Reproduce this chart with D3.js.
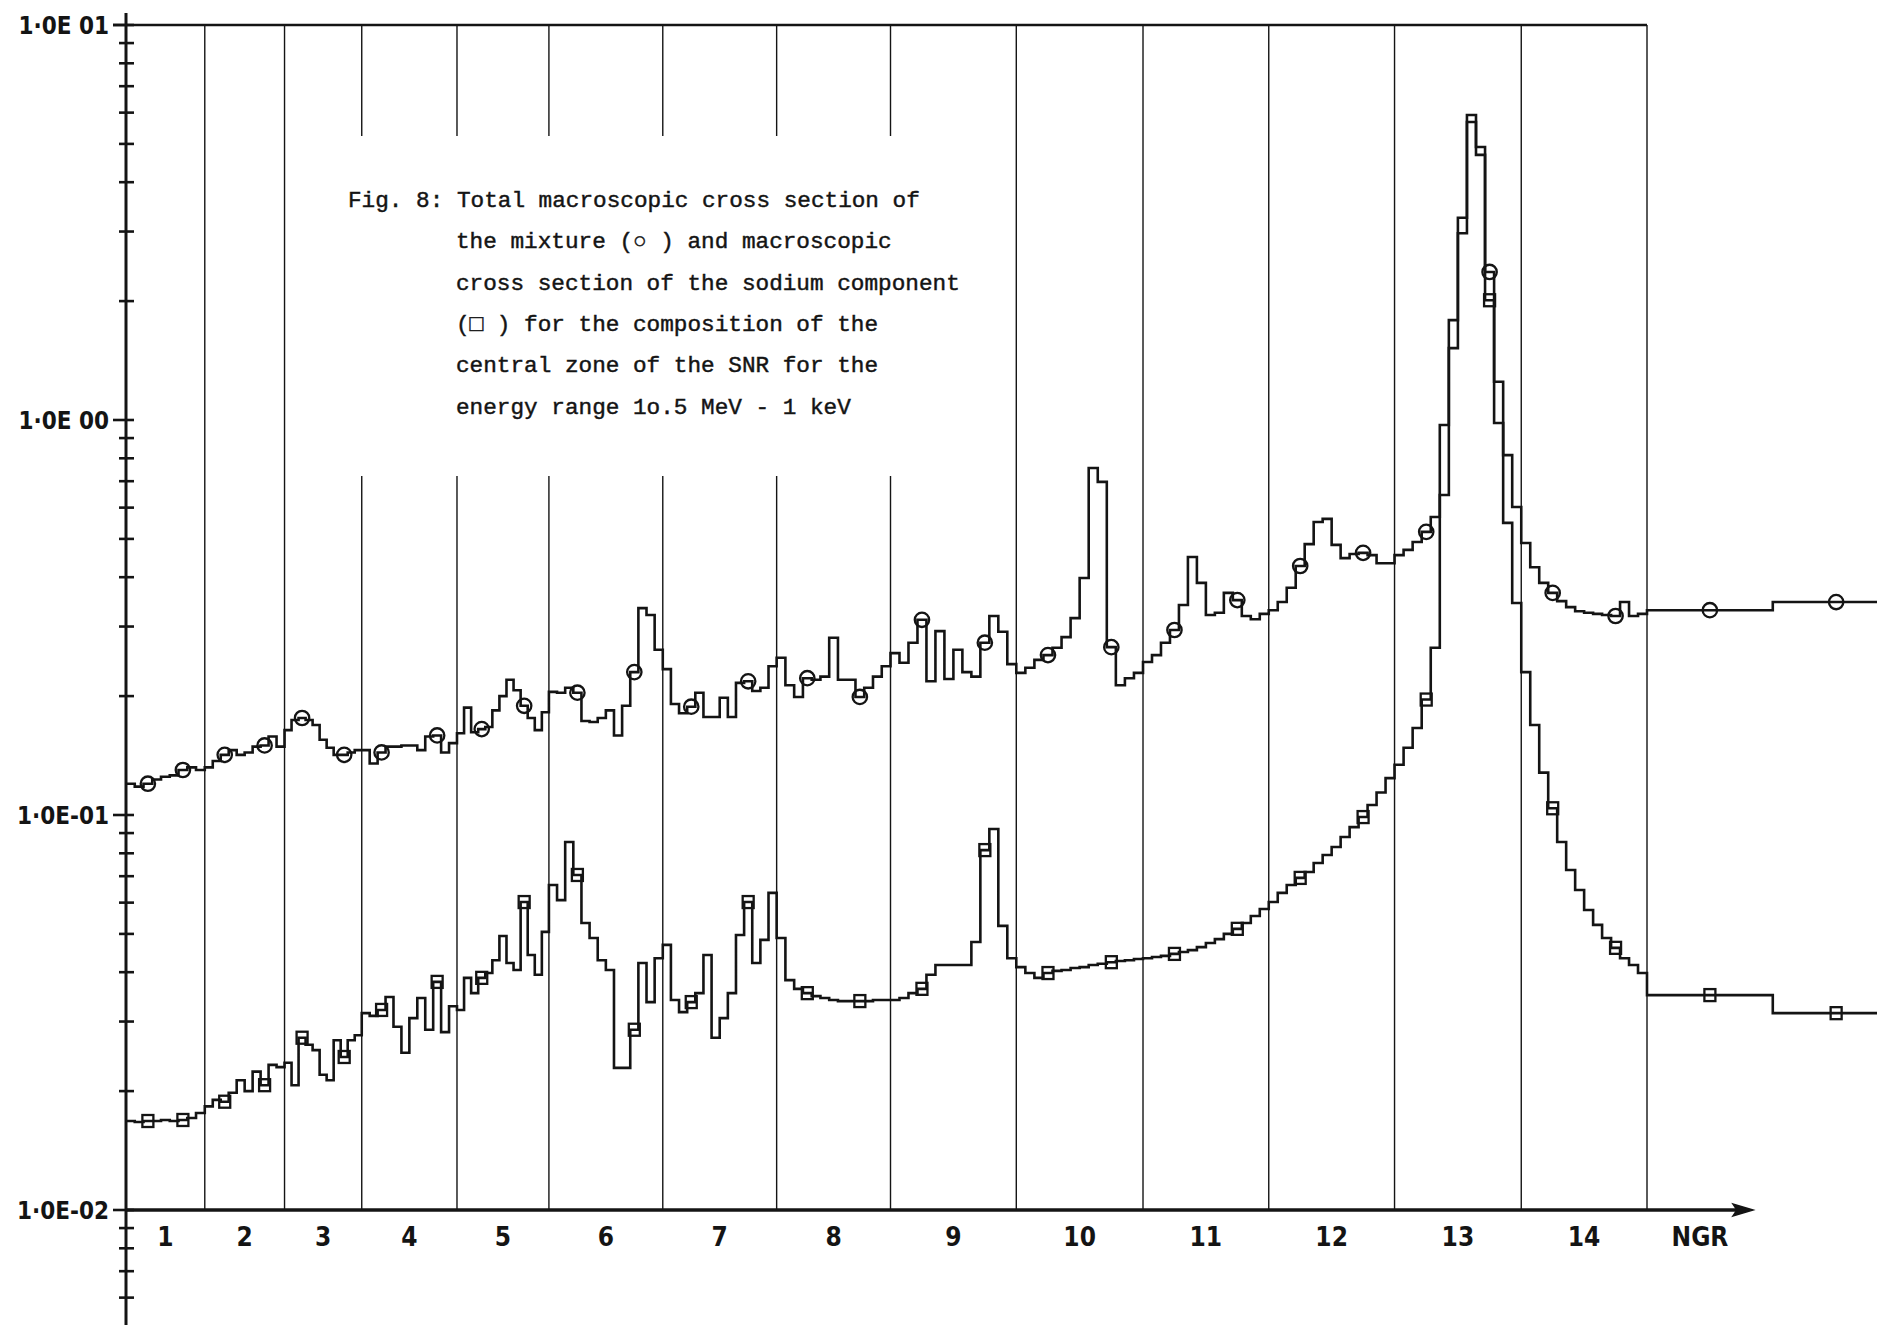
<!DOCTYPE html>
<html>
<head>
<meta charset="utf-8">
<script src="https://cdn.jsdelivr.net/npm/d3@7"></script>
<style>
  html, body { margin: 0; padding: 0; background: #fff; }
  svg { display: block; }
</style>
</head>
<body>
<svg id="chart" width="1877" height="1325"></svg>
<script>
// ABBN energy group boundaries in MeV (groups 1..16)
const groupEdges = [10.5, 6.5, 4.0, 2.5, 1.4, 0.8, 0.4, 0.2, 0.1, 0.0465, 0.0215,
                    0.01, 0.00465, 0.00215, 0.001, 0.000465, 0.000215];
const groupLabels = ["1", "2", "3", "4", "5", "6", "7", "8", "9", "10", "11", "12", "13", "14"];
const yTickValues = [10, 1, 0.1, 0.01];
const yTickLabels = ["1\u00b70E 01", "1\u00b70E 00", "1\u00b70E-01", "1\u00b70E-02"];

// Total macroscopic cross section of the mixture, fine steps per group (1/cm)
const mixture = [
  [0.120, 0.118, 0.120, 0.123, 0.125, 0.126, 0.130, 0.132, 0.130],
  [0.132, 0.137, 0.142, 0.146, 0.142, 0.144, 0.149, 0.150, 0.158, 0.149],
  [0.164, 0.174, 0.176, 0.174, 0.169, 0.155, 0.148, 0.142, 0.142, 0.144, 0.146],
  [0.146, 0.135, 0.144, 0.149, 0.149, 0.150, 0.150, 0.146, 0.158, 0.159, 0.144, 0.152],
  [0.161, 0.187, 0.162, 0.165, 0.167, 0.184, 0.200, 0.220, 0.207, 0.189, 0.176, 0.164, 0.182],
  [0.205, 0.204, 0.210, 0.204, 0.173, 0.172, 0.176, 0.184, 0.159, 0.189, 0.230, 0.334, 0.321, 0.262],
  [0.234, 0.191, 0.181, 0.188, 0.204, 0.177, 0.177, 0.198, 0.177, 0.216, 0.218, 0.206, 0.210, 0.238],
  [0.250, 0.213, 0.199, 0.222, 0.220, 0.224, 0.281, 0.220, 0.220, 0.199, 0.210, 0.224, 0.238],
  [0.257, 0.243, 0.273, 0.312, 0.218, 0.292, 0.221, 0.262, 0.230, 0.224, 0.273, 0.319, 0.291, 0.241],
  [0.229, 0.236, 0.247, 0.254, 0.265, 0.282, 0.315, 0.398, 0.756, 0.697, 0.266, 0.213, 0.222, 0.229],
  [0.244, 0.254, 0.273, 0.294, 0.340, 0.450, 0.387, 0.321, 0.325, 0.365, 0.350, 0.319, 0.313, 0.323],
  [0.330, 0.346, 0.376, 0.427, 0.485, 0.552, 0.562, 0.483, 0.447, 0.458, 0.461, 0.455, 0.434, 0.434],
  [0.455, 0.469, 0.491, 0.521, 0.568, 0.971, 1.79, 3.25, 5.92, 4.91, 2.37, 1.25, 0.815, 0.602],
  [0.488, 0.424, 0.387, 0.365, 0.348, 0.336, 0.328, 0.325, 0.323, 0.321, 0.319, 0.346, 0.319, 0.323],
  [0.330],
  [0.346]
];

// Macroscopic cross section of the sodium component (1/cm)
const sodium = [
  [0.0168, 0.0167, 0.0168, 0.0168, 0.0169, 0.0168, 0.0169, 0.0171, 0.0176],
  [0.0183, 0.0190, 0.0188, 0.0198, 0.0213, 0.0200, 0.0224, 0.0207, 0.0233, 0.0230],
  [0.0236, 0.0207, 0.0273, 0.0262, 0.0254, 0.0220, 0.0213, 0.0269, 0.0244, 0.0269, 0.0277],
  [0.0315, 0.0310, 0.0321, 0.0346, 0.0291, 0.0250, 0.0306, 0.0344, 0.0286, 0.0378, 0.0282, 0.0328],
  [0.0321, 0.0387, 0.0354, 0.0387, 0.0398, 0.0429, 0.0494, 0.0422, 0.0405, 0.0602, 0.0442, 0.0394, 0.0506],
  [0.0665, 0.0609, 0.0854, 0.0705, 0.0533, 0.0488, 0.0429, 0.0405, 0.0229, 0.0229, 0.0286, 0.0422, 0.0336, 0.0434],
  [0.0469, 0.0340, 0.0317, 0.0336, 0.0354, 0.0442, 0.0273, 0.0306, 0.0354, 0.0497, 0.0602, 0.0422, 0.0483, 0.0635],
  [0.0488, 0.0382, 0.0363, 0.0354, 0.0348, 0.0344, 0.0340, 0.0338, 0.0338, 0.0338, 0.0338, 0.0340, 0.0340],
  [0.0340, 0.0344, 0.0354, 0.0363, 0.0394, 0.0417, 0.0417, 0.0417, 0.0417, 0.0477, 0.0815, 0.0922, 0.0524, 0.0434],
  [0.0412, 0.0398, 0.0387, 0.0398, 0.0403, 0.0405, 0.0410, 0.0412, 0.0417, 0.0420, 0.0424, 0.0427, 0.0429, 0.0432],
  [0.0434, 0.0437, 0.0440, 0.0445, 0.0450, 0.0455, 0.0463, 0.0474, 0.0485, 0.0500, 0.0515, 0.0533, 0.0555, 0.0578],
  [0.0602, 0.0635, 0.0665, 0.0693, 0.0717, 0.0756, 0.0792, 0.0830, 0.0880, 0.0932, 0.0988, 0.106, 0.114, 0.124],
  [0.134, 0.148, 0.166, 0.196, 0.265, 0.646, 1.52, 2.97, 5.68, 4.69, 2.01, 0.983, 0.549, 0.344],
  [0.230, 0.169, 0.128, 0.104, 0.0854, 0.0726, 0.0646, 0.0575, 0.0527, 0.0488, 0.0461, 0.0434, 0.0417, 0.0398],
  [0.0350],
  [0.0315]
];

// Fine steps carrying a symbol, per group
const markedSteps = [[2, 6], [2, 7], [2, 8], [2, 9], [3, 9], [3, 10], [3, 10], [3, 9],
                     [3, 10], [3, 10], [3, 10], [3, 10], [3, 10], [3, 10], [0], [0]];

const captionLines = [
  "Fig. 8: Total macroscopic cross section of",
  "the mixture (\u25cb ) and macroscopic",
  "cross section of the sodium component",
  "(\u25a1 ) for the composition of the",
  "central zone of the SNR for the",
  "energy range 1o.5 MeV - 1 keV"
];

// ---------------------------------------------------------------------------
const svg = d3.select("#chart");
const ink = "#141414";

const x = d3.scaleLog().domain([10.5, 0.001]).range([126, 1647]);
const y = d3.scaleLog().domain([0.01, 10]).range([1210, 25]);

const xAxisY = y(0.01);
const topY = y(10);
const xLeft = x(10.5), xRight = x(0.001);

// caption block region (vertical group lines are interrupted behind it)
const caption = { left: 340, right: 900, gapTop: 136, gapBottom: 476 };

// vertical group boundary lines
const innerEdges = groupEdges.slice(1, 15);
innerEdges.forEach(e => {
  const px = x(e);
  const inCaption = px > caption.left && px < caption.right;
  const segs = inCaption ? [[topY, caption.gapTop], [caption.gapBottom, xAxisY]] : [[topY, xAxisY]];
  segs.forEach(([a, b]) => {
    svg.append("line")
      .attr("x1", px).attr("x2", px).attr("y1", a).attr("y2", b)
      .attr("stroke", ink).attr("stroke-width", 1.4);
  });
});

// top frame line
svg.append("line")
  .attr("x1", xLeft - 13).attr("x2", xRight).attr("y1", topY).attr("y2", topY)
  .attr("stroke", ink).attr("stroke-width", 2.4);

// y axis line
svg.append("line")
  .attr("x1", xLeft).attr("x2", xLeft).attr("y1", 13).attr("y2", 1325)
  .attr("stroke", ink).attr("stroke-width", 3);

// minor ticks (2..9 in every decade)
const minorTicks = [];
for (let p = -3; p <= 0; p++) {
  for (let m = 2; m <= 9; m++) {
    const v = m * Math.pow(10, p);
    const py = y(v);
    if (py > 14 && py < 1325) minorTicks.push(v);
  }
}
svg.selectAll("line.minor").data(minorTicks).enter().append("line")
  .attr("class", "minor")
  .attr("x1", xLeft - 7).attr("x2", xLeft + 8)
  .attr("y1", d => y(d)).attr("y2", d => y(d))
  .attr("stroke", ink).attr("stroke-width", 2.6);

// decade ticks and labels
svg.selectAll("line.major").data(yTickValues).enter().append("line")
  .attr("class", "major")
  .attr("x1", xLeft - 13).attr("x2", xLeft + 8)
  .attr("y1", d => y(d)).attr("y2", d => y(d))
  .attr("stroke", ink).attr("stroke-width", 2.6);

svg.selectAll("text.ylab").data(yTickValues).enter().append("text")
  .attr("class", "ylab")
  .attr("x", xLeft - 17)
  .attr("y", d => y(d))
  .attr("dy", "0.36em")
  .attr("text-anchor", "end")
  .attr("font-family", "'DejaVu Sans Condensed', 'DejaVu Sans', sans-serif")
  .attr("font-stretch", "condensed")
  .attr("font-weight", "bold")
  .attr("font-size", 24)
  .attr("fill", ink)
  .text((d, i) => yTickLabels[i]);

// x axis with arrow
const arrowTip = 1753;
svg.append("line")
  .attr("x1", xLeft).attr("x2", arrowTip - 8).attr("y1", xAxisY).attr("y2", xAxisY)
  .attr("stroke", ink).attr("stroke-width", 3.4);
svg.append("path")
  .attr("d", `M${arrowTip},${xAxisY} L${arrowTip - 20},${xAxisY - 6} L${arrowTip - 16},${xAxisY} L${arrowTip - 20},${xAxisY + 6} Z`)
  .attr("fill", ink).attr("stroke", ink).attr("stroke-width", 1.5);

// group numbers
const groupCenters = groupLabels.map((lab, i) => ({
  lab, e: Math.sqrt(groupEdges[i] * groupEdges[i + 1])
}));
svg.selectAll("text.xlab").data(groupCenters).enter().append("text")
  .attr("class", "xlab")
  .attr("x", d => x(d.e))
  .attr("y", xAxisY + 36)
  .attr("text-anchor", "middle")
  .attr("font-family", "'DejaVu Sans Condensed', 'DejaVu Sans', sans-serif")
  .attr("font-stretch", "condensed")
  .attr("font-weight", "bold")
  .attr("font-size", 26)
  .attr("fill", ink)
  .text(d => d.lab);

svg.append("text")
  .attr("x", 1700).attr("y", xAxisY + 36)
  .attr("text-anchor", "middle")
  .attr("font-family", "'DejaVu Sans Condensed', 'DejaVu Sans', sans-serif")
  .attr("font-stretch", "condensed")
  .attr("font-weight", "bold")
  .attr("font-size", 26)
  .attr("fill", ink)
  .text("NGR");

// ---------------------------------------------------------------------------
// step histograms
function fineSteps(series) {
  const out = [];
  series.forEach((vals, g) => {
    const e0 = groupEdges[g], e1 = groupEdges[g + 1], n = vals.length;
    vals.forEach((v, i) => {
      const a = e0 * Math.pow(e1 / e0, i / n);
      const b = e0 * Math.pow(e1 / e0, (i + 1) / n);
      out.push({ g, i, a, b, v });
    });
  });
  return out;
}

const stepLine = d3.line()
  .x(d => x(d[0]))
  .y(d => y(d[1]))
  .curve(d3.curveStepAfter);

function drawSeries(series, shape) {
  const steps = fineSteps(series);
  const pts = steps.map(s => [s.a, s.v]);
  const last = steps[steps.length - 1];
  pts.push([last.b, last.v]);
  svg.append("path")
    .attr("d", stepLine(pts))
    .attr("fill", "none")
    .attr("stroke", ink)
    .attr("stroke-width", 2.6)
    .attr("stroke-linejoin", "miter");

  const marked = steps.filter(s => markedSteps[s.g].includes(s.i));
  if (shape === "circle") {
    svg.selectAll(null).data(marked).enter().append("circle")
      .attr("cx", d => x(Math.sqrt(d.a * d.b)))
      .attr("cy", d => y(d.v))
      .attr("r", 7.2)
      .attr("fill", "none")
      .attr("stroke", ink)
      .attr("stroke-width", 2.3);
  } else {
    svg.selectAll(null).data(marked).enter().append("rect")
      .attr("x", d => x(Math.sqrt(d.a * d.b)) - 5.5)
      .attr("y", d => y(d.v) - 6)
      .attr("width", 11)
      .attr("height", 12)
      .attr("fill", "none")
      .attr("stroke", ink)
      .attr("stroke-width", 2.3);
  }
}

drawSeries(mixture, "circle");
drawSeries(sodium, "square");

// ---------------------------------------------------------------------------
// caption (typewritten)
const captionFont = "'Liberation Mono', 'Courier New', monospace";
captionLines.forEach((line, i) => {
  svg.append("text")
    .attr("x", i === 0 ? 348 : 456)
    .attr("y", 207 + i * 41.3)
    .attr("font-family", captionFont)
    .attr("font-size", 22.7)
    .attr("fill", ink)
    .attr("stroke", ink)
    .attr("stroke-width", 0.45)
    .attr("xml:space", "preserve")
    .style("white-space", "pre")
    .text(line);
});
</script>
</body>
</html>
